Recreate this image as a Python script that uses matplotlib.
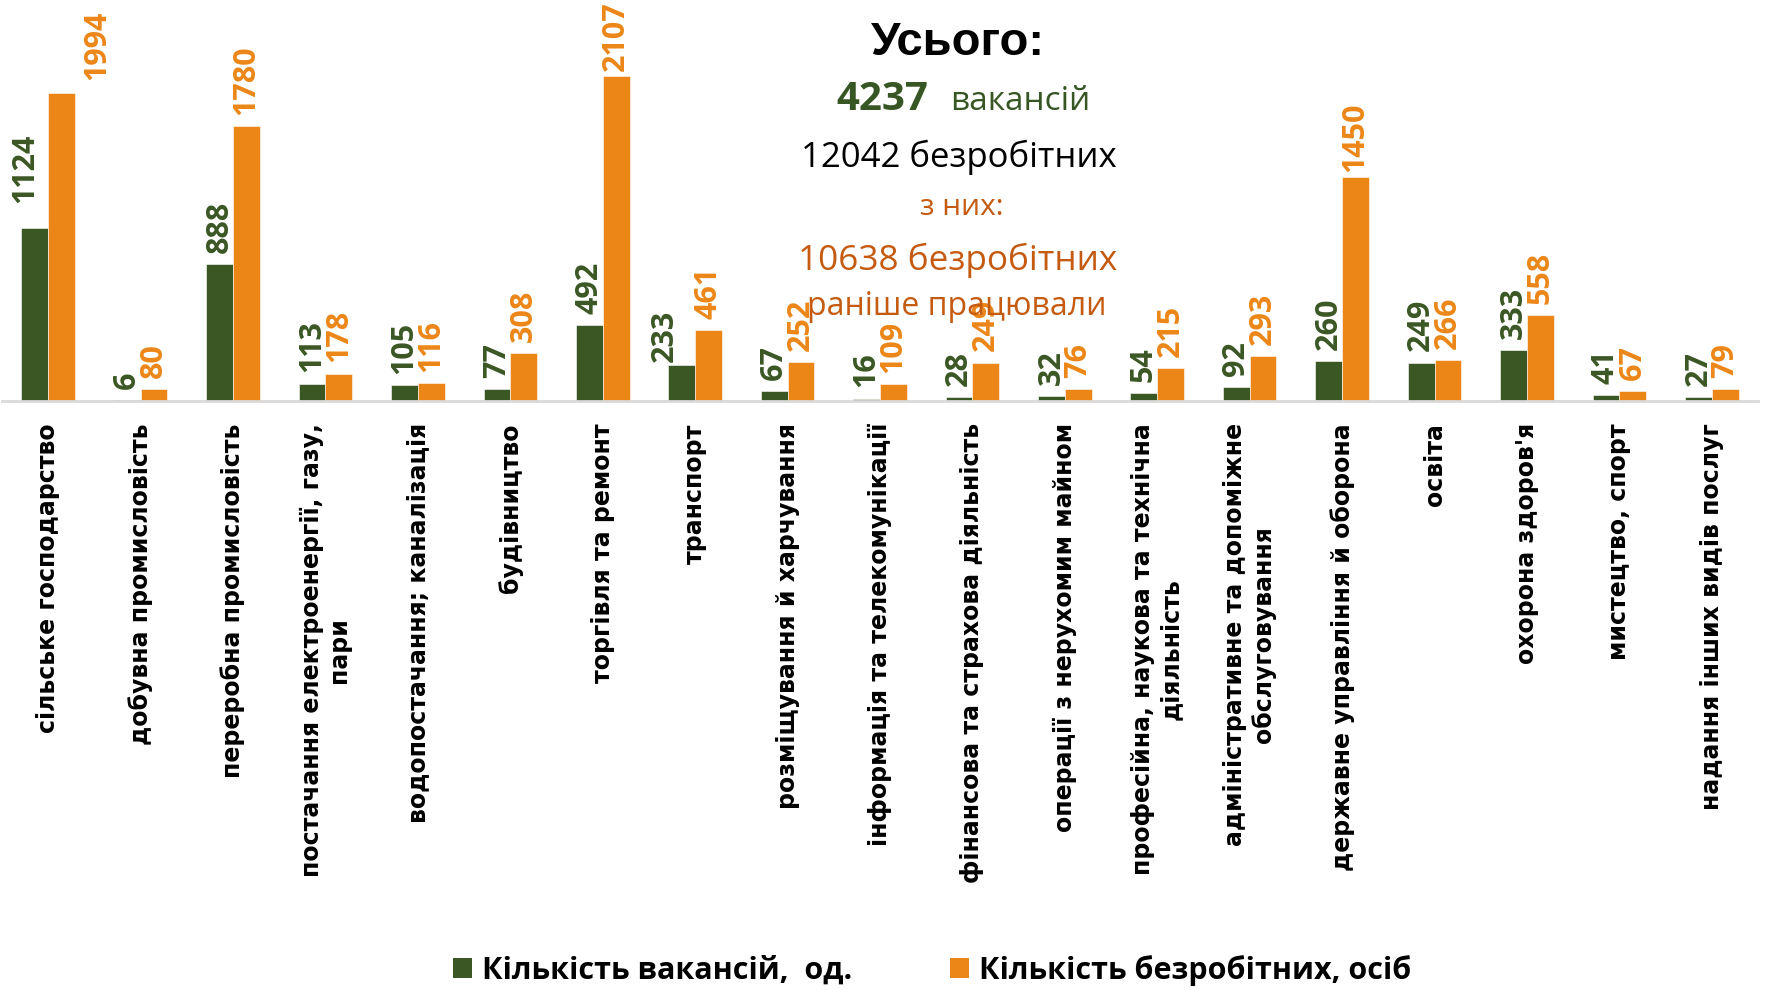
import matplotlib
matplotlib.use("Agg")
import matplotlib.pyplot as plt
import numpy as np
from matplotlib.patches import Patch

categories = [
    "сільське господарство",
    "добувна промисловість",
    "переробна промисловість",
    "постачання електроенергії, газу,\nпари",
    "водопостачання; каналізація",
    "будівництво",
    "торгівля та ремонт",
    "транспорт",
    "розміщування й харчування",
    "інформація та телекомунікації",
    "фінансова та страхова діяльність",
    "операції з нерухомим майном",
    "професійна, наукова та технічна\nдіяльність",
    "адміністративне та допоміжне\nобслуговування",
    "державне управління й оборона",
    "освіта",
    "охорона здоров'я",
    "мистецтво, спорт",
    "надання інших видів послуг",
]
vacancies = [1124, 6, 888, 113, 105, 77, 492, 233, 67, 16, 28, 32, 54, 92, 260, 249, 333, 41, 27]
unemployed = [1994, 80, 1780, 178, 116, 308, 2107, 461, 252, 109, 249, 76, 215, 293, 1450, 266, 558, 67, 79]

legend_labels = ["Кількість вакансій,  од.", "Кількість безробітних, осіб"]
total_vac = 4237
total_unemp = 12042
total_prev = 10638

GREEN = "#3B5724"
ORANGE = "#EC8617"
DARK_ORANGE = "#C55A11"
TEXT_GREEN = "#375623"

W, H = 1768, 990
fig = plt.figure(figsize=(W / 100, H / 100), dpi=100)
ax = fig.add_axes([2 / W, (H - 401) / H, 1756 / W, 401 / H])

x = np.arange(len(categories))
bw = 0.29
b1 = ax.bar(x - bw / 2, vacancies, bw, color=GREEN, edgecolor="white", linewidth=0.4)
b2 = ax.bar(x + bw / 2, unemployed, bw, color=ORANGE, edgecolor="white", linewidth=0.4)

ax.set_xlim(-0.5, len(categories) - 0.5)
ax.set_ylim(0, 2600)
for s in ["top", "left", "right"]:
    ax.spines[s].set_visible(False)
ax.spines["bottom"].set_color("#D9D9D9")
ax.spines["bottom"].set_linewidth(2)
ax.set_yticks([])
ax.set_xticks(x)
ax.set_xticklabels(categories, rotation=90, fontsize=17, fontweight="bold",
                   family="DejaVu Sans", multialignment="center")
ax.tick_params(axis="x", length=0, pad=16)

label_font = dict(family="Open Sans", fontweight="bold", fontsize=22)
# small manual nudges (points) for a few labels, as in the original layout
nudge_v = {0: (-7, 18), 7: (-12, 2)}
nudge_u = {0: (26, 10), 6: (0, 3.5), 14: (0, 4)}
for i, (r, v) in enumerate(zip(b1, vacancies)):
    dx, dy = nudge_v.get(i, (0, 8))
    ax.annotate(str(v), (r.get_x() + r.get_width() / 2, v), xytext=(dx, dy),
                textcoords="offset points", rotation=90, ha="center", va="bottom",
                color=GREEN, **label_font)
for i, (r, v) in enumerate(zip(b2, unemployed)):
    dx, dy = nudge_u.get(i, (0, 8))
    ax.annotate(str(v), (r.get_x() + r.get_width() / 2, v), xytext=(dx, dy),
                textcoords="offset points", rotation=90, ha="center", va="bottom",
                color=ORANGE, **label_font)

def ft(px, py, s, **kw):
    fig.text(px / W, 1 - py / H, s, va="baseline", **kw)

ft(958, 55, "Усього:", ha="center", fontsize=34, fontweight="bold",
   family="Liberation Sans", color="black")
ft(928, 110, str(total_vac), ha="right", fontsize=29, fontweight="bold",
   family="Open Sans", color=TEXT_GREEN)
ft(950, 110, "вакансій", ha="left", fontsize=24, family="Open Sans", color=TEXT_GREEN)
ft(959, 167, f"{total_unemp} безробітних", ha="center", fontsize=25,
   family="Open Sans", color="black")
ft(962, 215, "з них:", ha="center", fontsize=21.5, family="Open Sans", color=DARK_ORANGE)
ft(958, 270, f"{total_prev} безробітних", ha="center", fontsize=25.3,
   family="Open Sans", color=DARK_ORANGE)
ft(957, 315, "раніше працювали", ha="center", fontsize=23,
   family="Open Sans", color=DARK_ORANGE)

handles = [Patch(facecolor=GREEN), Patch(facecolor=ORANGE)]
fig.legend(handles, legend_labels, loc="center", bbox_to_anchor=(0.527, 0.020),
           ncol=2, frameon=False, handlelength=0.65, handleheight=0.65,
           handletextpad=0.3, columnspacing=3.2,
           prop=dict(family="Open Sans", weight="bold", size=22))

fig.savefig("out.png", dpi=100, facecolor="white")
